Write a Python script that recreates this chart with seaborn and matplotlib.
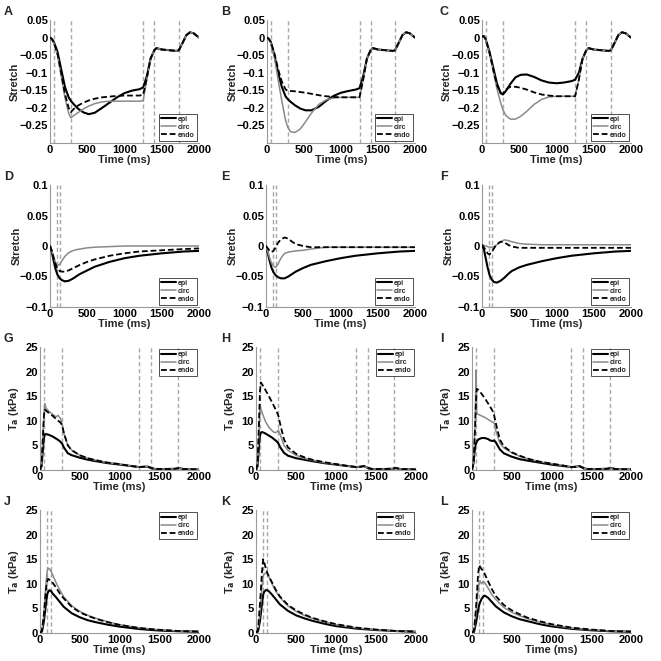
import numpy as np
import pandas as pd
import matplotlib
matplotlib.use("Agg")
import matplotlib.pyplot as plt
from matplotlib.lines import Line2D
import seaborn as sns

sns.set_theme(style="white")
plt.rcParams["font.family"] = ["Liberation Sans", "DejaVu Sans"]
plt.rcParams["font.weight"] = "bold"

# ---------------- data ----------------
LAYERS = ["epi", "circ", "endo"]

# Row 1: stretch, full cycle (A, B, C)
T1_HEAD = [0, 25, 50, 100, 150, 200, 250, 280, 320, 380, 450, 520, 600, 700, 800, 900, 1000, 1100, 1200, 1250, 1300]
T1_TAIL = [1350, 1400, 1430, 1500, 1600, 1700, 1730, 1780, 1830, 1880, 1930, 1970, 2000]
S1_TAIL = [-0.06, -0.036, -0.03, -0.034, -0.036, -0.038, -0.036, -0.015, 0.007, 0.015, 0.012, 0.005, 0.0]

A_epi = [0, -0.004, -0.012, -0.04, -0.09, -0.14, -0.17, -0.18, -0.19, -0.203, -0.213, -0.218, -0.214, -0.2, -0.185, -0.17, -0.158, -0.151, -0.147, -0.142, -0.11]
A_circ = [0, -0.005, -0.015, -0.05, -0.11, -0.17, -0.215, -0.228, -0.222, -0.213, -0.203, -0.195, -0.188, -0.183, -0.181, -0.181, -0.181, -0.181, -0.181, -0.18, -0.12]
A_endo = [0, -0.004, -0.013, -0.045, -0.1, -0.16, -0.2, -0.212, -0.203, -0.193, -0.185, -0.179, -0.174, -0.17, -0.168, -0.166, -0.165, -0.165, -0.165, -0.163, -0.115]

B_epi = [0, -0.004, -0.012, -0.05, -0.1, -0.14, -0.167, -0.175, -0.183, -0.193, -0.202, -0.207, -0.207, -0.197, -0.18, -0.166, -0.157, -0.152, -0.148, -0.144, -0.11]
B_circ = [0, -0.005, -0.015, -0.055, -0.12, -0.18, -0.235, -0.255, -0.268, -0.27, -0.26, -0.24, -0.215, -0.19, -0.177, -0.172, -0.17, -0.17, -0.17, -0.17, -0.12]
B_endo = [0, -0.004, -0.012, -0.045, -0.09, -0.125, -0.147, -0.152, -0.152, -0.153, -0.155, -0.157, -0.16, -0.164, -0.167, -0.169, -0.17, -0.17, -0.17, -0.17, -0.12]

C_epi = [0.003, 0.004, -0.005, -0.04, -0.085, -0.13, -0.158, -0.162, -0.152, -0.132, -0.113, -0.106, -0.105, -0.112, -0.122, -0.128, -0.13, -0.128, -0.124, -0.12, -0.1]
C_circ = [0.003, 0.004, -0.006, -0.045, -0.095, -0.145, -0.185, -0.205, -0.222, -0.232, -0.232, -0.224, -0.21, -0.19, -0.176, -0.169, -0.167, -0.167, -0.167, -0.167, -0.12]
C_endo = [0.003, 0.004, -0.005, -0.042, -0.09, -0.135, -0.158, -0.16, -0.148, -0.14, -0.14, -0.143, -0.148, -0.156, -0.162, -0.165, -0.167, -0.167, -0.167, -0.167, -0.12]

# Row 2: stretch, single beat (D, E, F)
T2 = [0, 25, 50, 75, 100, 130, 160, 200, 250, 300, 350, 400, 500, 600, 800, 1000, 1200, 1500, 1800, 2000]
D_epi = [0, -0.01, -0.025, -0.038, -0.047, -0.053, -0.056, -0.058, -0.057, -0.054, -0.05, -0.046, -0.04, -0.034, -0.026, -0.02, -0.016, -0.012, -0.009, -0.008]
D_circ = [0, -0.008, -0.018, -0.027, -0.032, -0.03, -0.024, -0.017, -0.011, -0.008, -0.006, -0.005, -0.003, -0.002, -0.001, 0, 0, 0, 0, 0]
D_endo = [0, -0.008, -0.02, -0.03, -0.037, -0.041, -0.042, -0.042, -0.04, -0.037, -0.034, -0.031, -0.026, -0.022, -0.016, -0.012, -0.009, -0.007, -0.005, -0.004]

E_epi = [0, -0.012, -0.025, -0.036, -0.043, -0.048, -0.051, -0.053, -0.053, -0.05, -0.046, -0.042, -0.036, -0.031, -0.025, -0.02, -0.016, -0.012, -0.009, -0.008]
E_circ = [0, -0.01, -0.02, -0.028, -0.033, -0.035, -0.03, -0.02, -0.012, -0.01, -0.009, -0.008, -0.007, -0.005, -0.002, -0.002, -0.002, -0.002, -0.002, -0.002]
E_endo = [0, -0.004, -0.008, -0.01, -0.008, -0.002, 0.005, 0.011, 0.014, 0.012, 0.007, 0.003, 0, -0.002, -0.002, -0.002, -0.002, -0.002, -0.002, -0.002]

F_epi = [0.002, -0.005, -0.02, -0.035, -0.047, -0.055, -0.059, -0.06, -0.057, -0.052, -0.046, -0.041, -0.035, -0.031, -0.025, -0.02, -0.016, -0.012, -0.009, -0.008]
F_circ = [0.002, 0.001, 0, -0.001, -0.002, -0.002, -0.001, 0.002, 0.007, 0.01, 0.009, 0.007, 0.004, 0.003, 0.002, 0.002, 0.002, 0.002, 0.002, 0.002]
F_endo = [0.002, -0.002, -0.007, -0.012, -0.014, -0.01, -0.004, 0.003, 0.007, 0.006, 0.002, -0.001, -0.003, -0.003, -0.003, -0.003, -0.003, -0.003, -0.003, -0.003]

# Row 3: active tension, full cycle (G, H, I)
T3 = [0, 20, 40, 50, 60, 80, 120, 160, 200, 230, 260, 280, 300, 350, 400, 500, 600, 700, 850, 1000, 1150, 1250, 1300, 1350, 1400, 1450, 1600, 1700, 1750, 1800, 2000]
G_epi = [0, 0.8, 5, 6.5, 7.2, 7.3, 7.1, 6.8, 6.4, 6.1, 5.7, 5.3, 4.6, 3.4, 3.0, 2.5, 2.1, 1.8, 1.4, 1.1, 0.8, 0.6, 0.65, 0.7, 0.4, 0.2, 0.2, 0.25, 0.4, 0.2, 0.1]
G_circ = [0, 1, 8, 11.5, 13.5, 12.5, 11.8, 11.3, 10.8, 11.1, 10.4, 9.2, 7.5, 5.0, 4.0, 3.0, 2.4, 2.0, 1.5, 1.2, 0.8, 0.6, 0.65, 0.7, 0.4, 0.2, 0.2, 0.25, 0.4, 0.2, 0.1]
G_endo = [0, 1, 8, 11, 12.3, 12.0, 11.5, 11.0, 10.4, 10.0, 9.6, 9.0, 7.5, 5.0, 4.0, 3.0, 2.4, 2.0, 1.5, 1.2, 0.8, 0.6, 0.65, 0.7, 0.4, 0.2, 0.2, 0.25, 0.4, 0.2, 0.1]

H_epi = [0, 0.8, 5.5, 7.0, 7.6, 7.7, 7.4, 7.0, 6.6, 6.2, 5.8, 5.4, 4.7, 3.5, 2.9, 2.4, 2.1, 1.8, 1.4, 1.1, 0.8, 0.6, 0.65, 0.8, 0.4, 0.2, 0.2, 0.25, 0.4, 0.2, 0.1]
H_circ = [0, 1, 9, 13.3, 12.5, 11.5, 9.8, 8.7, 8.0, 7.6, 7.7, 8.1, 7.3, 5.0, 4.0, 3.0, 2.4, 2.0, 1.5, 1.2, 0.8, 0.6, 0.65, 0.8, 0.4, 0.2, 0.2, 0.25, 0.4, 0.2, 0.1]
H_endo = [0, 1.2, 11, 16, 17.8, 17.3, 16.2, 15.0, 13.8, 12.8, 11.8, 11.0, 9.5, 6.2, 4.6, 3.3, 2.6, 2.1, 1.6, 1.2, 0.8, 0.6, 0.65, 0.8, 0.4, 0.2, 0.2, 0.25, 0.4, 0.2, 0.1]

I_epi = [0, 1.5, 5.0, 5.3, 5.8, 6.2, 6.5, 6.5, 6.3, 6.0, 5.9, 6.0, 5.6, 4.2, 3.4, 2.7, 2.2, 1.9, 1.5, 1.1, 0.8, 0.6, 0.65, 0.8, 0.4, 0.2, 0.2, 0.25, 0.4, 0.2, 0.1]
I_circ = [0, 2, 10, 20.3, 11.5, 11.3, 11.0, 10.7, 10.3, 10.0, 9.7, 9.5, 8.0, 5.5, 4.5, 3.5, 2.8, 2.3, 1.7, 1.3, 0.9, 0.6, 0.65, 0.8, 0.4, 0.2, 0.2, 0.25, 0.4, 0.2, 0.1]
I_endo = [0, 1.5, 9, 14, 16.5, 16.3, 15.5, 14.6, 13.6, 12.8, 12.0, 11.0, 9.5, 6.2, 4.8, 3.6, 2.9, 2.3, 1.7, 1.3, 0.9, 0.6, 0.65, 0.8, 0.4, 0.2, 0.2, 0.25, 0.4, 0.2, 0.1]

# Row 4: active tension, single beat (J, K, L)
T4 = [0, 25, 50, 75, 90, 100, 120, 140, 160, 200, 250, 300, 400, 500, 600, 700, 850, 1000, 1250, 1500, 1750, 2000]
J_epi = [0, 0.3, 2.5, 6, 7.8, 8.3, 8.7, 8.5, 8.0, 7.3, 6.3, 5.3, 4.0, 3.2, 2.6, 2.2, 1.7, 1.3, 0.8, 0.5, 0.35, 0.25]
J_circ = [0, 0.5, 4, 10, 12.5, 13.2, 13.0, 12.5, 11.8, 10.3, 8.7, 7.3, 5.5, 4.4, 3.6, 3.0, 2.3, 1.7, 1.05, 0.65, 0.4, 0.3]
J_endo = [0, 0.5, 4, 9, 10.5, 11.0, 10.8, 10.6, 10.2, 9.3, 8.0, 7.0, 5.3, 4.2, 3.5, 2.9, 2.2, 1.65, 1.0, 0.65, 0.4, 0.3]

K_epi = [0, 0.3, 2.5, 6, 7.8, 8.3, 8.7, 8.7, 8.5, 7.8, 6.8, 5.8, 4.5, 3.6, 3.0, 2.5, 1.9, 1.4, 0.9, 0.6, 0.4, 0.25]
K_circ = [0, 0.5, 4, 9.5, 11.5, 12.0, 12.2, 12.0, 11.5, 10.0, 8.4, 7.2, 5.5, 4.4, 3.6, 3.0, 2.3, 1.7, 1.05, 0.65, 0.4, 0.3]
K_endo = [0, 0.6, 6, 12.5, 15.0, 14.5, 13.3, 12.3, 11.5, 10.3, 8.7, 7.4, 5.7, 4.6, 3.8, 3.1, 2.4, 1.8, 1.1, 0.7, 0.4, 0.3]

L_epi = [0, 0.2, 2, 4.5, 5.7, 6.2, 6.9, 7.4, 7.6, 7.2, 6.3, 5.4, 4.2, 3.4, 2.8, 2.4, 1.8, 1.35, 0.85, 0.55, 0.35, 0.25]
L_circ = [0, 0.4, 4, 8.5, 10.3, 10.6, 10.0, 10.5, 10.2, 9.2, 7.8, 6.8, 5.2, 4.2, 3.5, 2.9, 2.2, 1.65, 1.0, 0.65, 0.4, 0.3]
L_endo = [0, 0.5, 5, 11.5, 13.8, 13.5, 13.0, 12.6, 12.0, 10.6, 8.9, 7.5, 5.7, 4.6, 3.8, 3.1, 2.4, 1.8, 1.1, 0.7, 0.4, 0.3]

MARKS_CYCLE = [50, 280, 1250, 1400, 1730]
MARKS_BEAT = [90, 140]

S1_TICKS = [-0.25, -0.2, -0.15, -0.1, -0.05, 0, 0.05]
S1_LABELS = ["\u22120.25", "\u22120.2", "\u22120.15", "\u22120.1", "\u22120.05", "0", "0.05"]
S2_TICKS = [-0.1, -0.05, 0, 0.05, 0.1]
S2_LABELS = ["\u22120.1", "\u22120.05", "0", "0.05", "0.1"]
TA_TICKS = [0, 5, 10, 15, 20, 25]
X_TICKS = [0, 500, 1000, 1500, 2000]

# ---------------- layout ----------------
W = H = 661
fig = plt.figure(figsize=(W / 100, H / 100), dpi=100)

def rect(l, t, r, b):
    return [l / W, 1 - b / H, (r - l) / W, (b - t) / H]

PAL = {"epi": "black", "circ": "#8a8a8a", "endo": "black"}
DASH = {"epi": "", "circ": "", "endo": (3.2, 1.6)}
SIZES = {"epi": 1.5, "circ": 1.1, "endo": 1.3}

def make_df(t, series):
    rows = []
    for name, vals in zip(LAYERS, series):
        rows.append(pd.DataFrame({"t": t, "v": vals, "layer": name}))
    return pd.concat(rows, ignore_index=True)

panels = [
    ("A", (50, 20, 199, 143), T1_HEAD + T1_TAIL, [A_epi + S1_TAIL, A_circ + S1_TAIL, A_endo + S1_TAIL], "s1"),
    ("B", (267, 20, 415, 143), T1_HEAD + T1_TAIL, [B_epi + S1_TAIL, B_circ + S1_TAIL, B_endo + S1_TAIL], "s1"),
    ("C", (482, 20, 631, 143), T1_HEAD + T1_TAIL, [C_epi + S1_TAIL, C_circ + S1_TAIL, C_endo + S1_TAIL], "s1"),
    ("D", (50, 185, 199, 307), T2, [D_epi, D_circ, D_endo], "s2"),
    ("E", (266, 185, 415, 307), T2, [E_epi, E_circ, E_endo], "s2"),
    ("F", (482, 185, 631, 307), T2, [F_epi, F_circ, F_endo], "s2"),
    ("G", (40, 347, 199, 470), T3, [G_epi, G_circ, G_endo], "t1"),
    ("H", (256, 347, 416, 470), T3, [H_epi, H_circ, H_endo], "t1"),
    ("I", (472, 347, 631, 470), T3, [I_epi, I_circ, I_endo], "t1"),
    ("J", (40, 510, 199, 633), T4, [J_epi, J_circ, J_endo], "t2"),
    ("K", (256, 510, 416, 633), T4, [K_epi, K_circ, K_endo], "t2"),
    ("L", (472, 510, 631, 633), T4, [L_epi, L_circ, L_endo], "t2"),
]

LETTER_X = {"A": 4, "B": 221, "C": 440, "D": 4, "E": 221, "F": 440,
            "G": 4, "H": 221, "I": 440, "J": 4, "K": 221, "L": 440}

for letter, (l, t, r, b), tt, series, kind in panels:
    ax = fig.add_axes(rect(l, t, r, b))
    df = make_df(tt, series)
    marks = MARKS_CYCLE if kind in ("s1", "t1") else MARKS_BEAT
    for m in marks:
        ax.axvline(m, color="#a8a8a8", lw=1.0, ls=(0, (3, 2)), zorder=1)
    sns.lineplot(data=df, x="t", y="v", hue="layer", style="layer", size="layer",
                 palette=PAL, dashes=DASH, sizes=SIZES, hue_order=LAYERS,
                 style_order=LAYERS, size_order=LAYERS, estimator=None,
                 sort=False, legend=False, ax=ax, zorder=3)
    ax.set_xlim(0, 2000)
    ax.set_xticks(X_TICKS)
    ax.set_xticklabels([str(x) for x in X_TICKS])
    if kind == "s1":
        ax.set_ylim(-0.3, 0.05)
        ax.set_yticks(S1_TICKS)
        ax.set_yticklabels(S1_LABELS)
        ax.set_ylabel("Stretch", fontsize=8, fontweight="bold")
        ax.yaxis.set_label_coords(-0.2, 0.5)
        loc = "lower right"
    elif kind == "s2":
        ax.set_ylim(-0.1, 0.1)
        ax.set_yticks(S2_TICKS)
        ax.set_yticklabels(S2_LABELS)
        ax.set_ylabel("Stretch", fontsize=8, fontweight="bold")
        ax.yaxis.set_label_coords(-0.19, 0.5)
        loc = "lower right"
    else:
        ax.set_ylim(0, 25)
        ax.set_yticks(TA_TICKS)
        ax.set_yticklabels([str(v) for v in TA_TICKS])
        ax.set_ylabel(r"T$_\mathbf{a}$ (kPa)", fontsize=8, fontweight="bold")
        ax.yaxis.set_label_coords(-0.12, 0.5)
        loc = "upper right"
    ax.set_xlabel("Time (ms)", fontsize=8, fontweight="bold")
    ax.xaxis.set_label_coords(0.5, -0.095)
    ax.xaxis.label.set_va("top")
    ax.tick_params(axis="both", direction="in", length=2, width=0.6, colors="black",
                   labelsize=8, pad=1.5, color="#888888")
    for lab in ax.get_xticklabels() + ax.get_yticklabels():
        lab.set_fontweight("bold")
    for sp in ("top", "right"):
        ax.spines[sp].set_visible(False)
    for sp in ("left", "bottom"):
        ax.spines[sp].set_color("#9a9a9a")
        ax.spines[sp].set_linewidth(0.8)
    handles = [Line2D([], [], color=PAL[n], lw=SIZES[n],
                      ls=(0, DASH[n]) if DASH[n] else "-") for n in LAYERS]
    leg = ax.legend(handles, LAYERS, loc=loc, fontsize=5, frameon=True,
                    fancybox=False, handlelength=2.2, handletextpad=0.3,
                    borderpad=0.3, labelspacing=0.15, borderaxespad=0.3)
    leg.get_frame().set_edgecolor("black")
    leg.get_frame().set_linewidth(0.6)
    fig.text(LETTER_X[letter] / W, 1 - (t - 8) / H, letter, fontsize=9,
             fontweight="bold", ha="left", va="center")

fig.savefig("out.png", dpi=100)
